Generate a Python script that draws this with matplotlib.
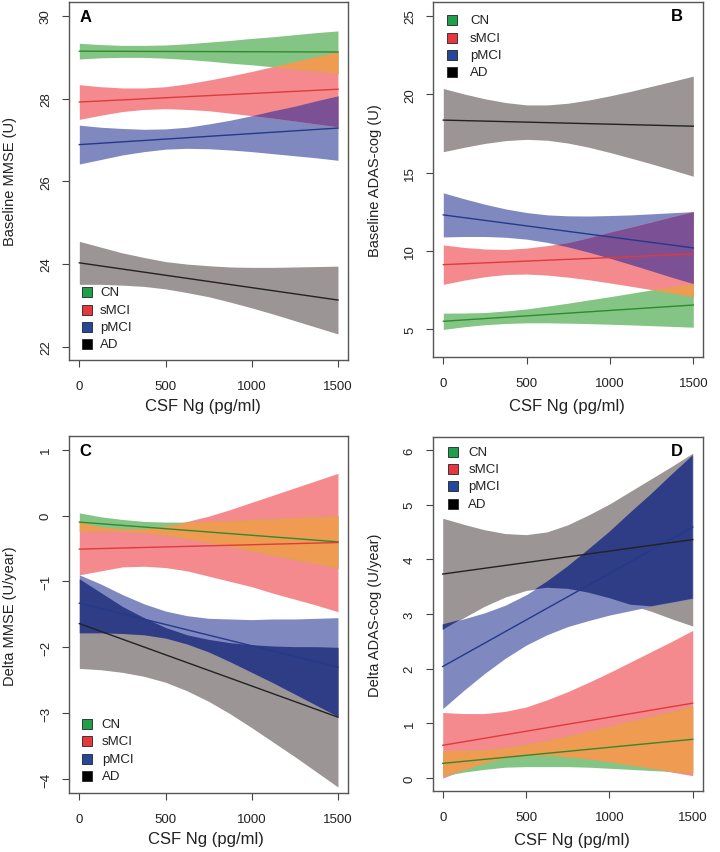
import numpy as np
import matplotlib.pyplot as plt

plt.rcParams['font.family'] = ['Liberation Sans', 'DejaVu Sans']

GROUPS = ["CN", "sMCI", "pMCI", "AD"]
NG = [0, 125, 250, 375, 500, 625, 750, 875, 1000, 1125, 1250, 1375, 1500]   # CSF Ng points where bands were read
NG_ENDS = [0, 1500]

# A: baseline MMSE
A_LINE = {"CN": [29.15, 29.13], "sMCI": [27.92, 28.23], "pMCI": [26.89, 27.29], "AD": [24.03, 23.13]}
A_UPPER = {"CN": [29.34, 29.31, 29.29, 29.29, 29.30, 29.33, 29.37, 29.41, 29.46, 29.50, 29.55, 29.60, 29.64],
           "sMCI": [28.34, 28.29, 28.26, 28.26, 28.29, 28.36, 28.45, 28.55, 28.66, 28.78, 28.90, 29.02, 29.14],
           "pMCI": [27.36, 27.31, 27.28, 27.26, 27.27, 27.31, 27.39, 27.48, 27.59, 27.71, 27.82, 27.95, 28.07],
           "AD": [24.55, 24.41, 24.27, 24.16, 24.06, 24.00, 23.96, 23.93, 23.92, 23.92, 23.93, 23.94, 23.95]}
A_LOWER = {"CN": [28.96, 28.99, 29.00, 29.00, 28.98, 28.95, 28.91, 28.86, 28.82, 28.77, 28.72, 28.67, 28.61],
           "sMCI": [27.50, 27.60, 27.69, 27.74, 27.76, 27.74, 27.71, 27.65, 27.59, 27.53, 27.46, 27.39, 27.32],
           "pMCI": [26.42, 26.53, 26.64, 26.72, 26.78, 26.80, 26.79, 26.76, 26.72, 26.67, 26.62, 26.57, 26.51],
           "AD": [23.51, 23.51, 23.49, 23.46, 23.40, 23.31, 23.21, 23.08, 22.94, 22.79, 22.63, 22.47, 22.31]}

# B: baseline ADAS-cog
B_LINE = {"CN": [5.49, 6.53], "sMCI": [9.11, 9.79], "pMCI": [12.29, 10.18], "AD": [18.35, 17.96]}
B_UPPER = {"CN": [6.01, 6.02, 6.05, 6.15, 6.28, 6.46, 6.65, 6.86, 7.06, 7.28, 7.50, 7.70, 7.90],
           "sMCI": [10.37, 10.21, 10.11, 10.08, 10.17, 10.33, 10.52, 10.84, 11.19, 11.51, 11.84, 12.18, 12.52],
           "pMCI": [13.70, 13.32, 12.97, 12.67, 12.44, 12.29, 12.23, 12.22, 12.25, 12.29, 12.36, 12.43, 12.50],
           "AD": [20.37, 20.02, 19.71, 19.47, 19.32, 19.32, 19.43, 19.64, 19.90, 20.19, 20.51, 20.83, 21.16]}
B_LOWER = {"CN": [4.97, 5.14, 5.27, 5.35, 5.39, 5.39, 5.37, 5.34, 5.30, 5.26, 5.21, 5.16, 5.11],
           "sMCI": [7.85, 8.12, 8.34, 8.48, 8.51, 8.44, 8.31, 8.14, 7.94, 7.73, 7.51, 7.29, 7.06],
           "pMCI": [10.88, 10.91, 10.91, 10.86, 10.74, 10.53, 10.24, 9.90, 9.52, 9.12, 8.71, 8.29, 7.90],
           "AD": [16.33, 16.61, 16.86, 17.04, 17.12, 17.06, 16.88, 16.61, 16.28, 15.92, 15.55, 15.16, 14.76]}

# C: delta MMSE
C_LINE = {"CN": [-0.10, -0.40], "sMCI": [-0.51, -0.41], "pMCI": [-1.33, -2.30], "AD": [-1.64, -3.06]}
C_UPPER = {"CN": [0.04, -0.02, -0.06, -0.09, -0.10, -0.10, -0.09, -0.08, -0.06, -0.05, -0.03, -0.02, 0.00],
           "sMCI": [-0.10, -0.17, -0.20, -0.20, -0.16, -0.09, -0.01, 0.09, 0.20, 0.31, 0.42, 0.53, 0.64],
           "pMCI": [-0.90, -1.04, -1.20, -1.34, -1.45, -1.52, -1.56, -1.57, -1.58, -1.57, -1.57, -1.56, -1.55],
           "AD": [-0.96, -1.17, -1.38, -1.55, -1.70, -1.81, -1.88, -1.93, -1.96, -1.98, -1.99, -1.99, -2.00]}
C_LOWER = {"CN": [-0.24, -0.23, -0.24, -0.26, -0.30, -0.35, -0.41, -0.47, -0.54, -0.60, -0.67, -0.73, -0.80],
           "sMCI": [-0.90, -0.84, -0.78, -0.77, -0.79, -0.84, -0.92, -1.00, -1.08, -1.18, -1.27, -1.36, -1.46],
           "pMCI": [-1.78, -1.78, -1.79, -1.81, -1.86, -1.95, -2.07, -2.22, -2.38, -2.54, -2.71, -2.88, -3.05],
           "AD": [-2.32, -2.34, -2.38, -2.44, -2.53, -2.66, -2.82, -3.01, -3.22, -3.44, -3.66, -3.89, -4.12]}

# D: delta ADAS-cog
D_LINE = {"CN": [0.27, 0.71], "sMCI": [0.60, 1.37], "pMCI": [2.04, 4.59], "AD": [3.73, 4.36]}
D_UPPER = {"CN": [0.50, 0.51, 0.52, 0.56, 0.62, 0.69, 0.77, 0.86, 0.95, 1.04, 1.13, 1.22, 1.32],
           "sMCI": [1.20, 1.18, 1.18, 1.22, 1.30, 1.43, 1.58, 1.75, 1.93, 2.12, 2.31, 2.50, 2.70],
           "pMCI": [2.81, 2.91, 3.02, 3.16, 3.35, 3.59, 3.87, 4.18, 4.50, 4.85, 5.19, 5.55, 5.90],
           "AD": [4.75, 4.64, 4.54, 4.47, 4.45, 4.50, 4.63, 4.81, 5.01, 5.24, 5.47, 5.70, 5.94]}
D_LOWER = {"CN": [0.04, 0.11, 0.16, 0.20, 0.21, 0.21, 0.21, 0.20, 0.18, 0.16, 0.14, 0.12, 0.10],
           "sMCI": [0.00, 0.15, 0.28, 0.37, 0.41, 0.42, 0.39, 0.35, 0.30, 0.24, 0.18, 0.11, 0.045],
           "pMCI": [1.27, 1.60, 1.91, 2.19, 2.43, 2.62, 2.77, 2.88, 2.98, 3.06, 3.14, 3.21, 3.28],
           "AD": [2.71, 2.93, 3.14, 3.31, 3.43, 3.48, 3.46, 3.39, 3.29, 3.17, 3.05, 2.91, 2.78]}

BAND = {"CN": "#84c585", "sMCI": "#f58a8e", "pMCI": "#8089bf", "AD": "#9b9595"}
LINE = {"CN": "#2e8b2e", "sMCI": "#e03a3a", "pMCI": "#23398a", "AD": "#222222"}
KEY = {"CN": "#1f9e4b", "sMCI": "#e8373c", "pMCI": "#24479a", "AD": "#000000"}
OVERLAP = [("CN", "sMCI", "#ef9b52"), ("sMCI", "pMCI", "#7c5094"), ("pMCI", "AD", "#2f3d86")]

panels = [
    # letter, line, upper, lower, ylabel, ylim, yticks, axes rect, letter xy, legend xy, xlabel xy, ylabel x
    ("A", A_LINE, A_UPPER, A_LOWER, "Baseline MMSE (U)", (21.68, 30.34), [22, 24, 26, 28, 30],
     [0.0958, 0.5768, 0.388, 0.4197], (0.06, 0.96), (0.063, 0.111, 0.189), (0.48, -0.126), -0.211),
    ("B", B_LINE, B_UPPER, B_LOWER, "Baseline ADAS-cog (U)", (3.19, 25.9), [5, 10, 15, 20, 25],
     [0.6018, 0.58, 0.375, 0.4165], (0.902, 0.961), (0.068, 0.136, 0.948), (0.494, -0.137), -0.216),
    ("C", C_LINE, C_UPPER, C_LOWER, "Delta MMSE (U/year)", (-4.21, 1.20), [-4, -3, -2, -1, 0, 1],
     [0.0958, 0.0692, 0.388, 0.418], (0.06, 0.96), (0.065, 0.117, 0.193), (0.49, -0.129), -0.211),
    ("D", D_LINE, D_UPPER, D_LOWER, "Delta ADAS-cog (U/year)", (-0.24, 6.23), [0, 1, 2, 3, 4, 5, 6],
     [0.601, 0.0712, 0.375, 0.415], (0.904, 0.962), (0.074, 0.132, 0.958), (0.517, -0.135), -0.213),
]

fig = plt.figure(figsize=(7.2, 8.53), dpi=100)

for letter, line, upper, lower, ylabel, ylim, yticks, rect, lxy, leg, xlab, ylab_x in panels:
    ax = fig.add_axes(rect)
    x = np.array(NG)
    for g in ["AD", "pMCI", "sMCI", "CN"]:
        ax.fill_between(x, lower[g], upper[g], color=BAND[g], lw=0)
    for g1, g2, col in OVERLAP:
        lo = np.maximum(lower[g1], lower[g2])
        hi = np.minimum(upper[g1], upper[g2])
        ax.fill_between(x, lo, hi, where=hi > lo, interpolate=True, color=col, lw=0)
    for g in GROUPS:
        ax.plot(NG_ENDS, line[g], color=LINE[g], lw=1.0)

    ax.set_xlim(-60, 1560)
    ax.set_ylim(*ylim)
    ax.set_xticks([0, 500, 1000, 1500])
    ax.set_yticks(yticks)
    ax.tick_params(direction='out', length=5.3, width=0.8, color='#444444',
                   labelsize=9.5, labelcolor='#222222')
    ax.tick_params(axis='x', pad=9)
    ax.tick_params(axis='y', pad=7, labelrotation=90)
    for lab in ax.get_yticklabels():
        lab.set_va('center')
    for sp in ax.spines.values():
        sp.set_color('#555555')
        sp.set_linewidth(1.0)

    ax.set_xlabel("CSF Ng (pg/ml)", fontsize=12, color='#222222', va='center')
    ax.xaxis.set_label_coords(*xlab)
    ax.set_ylabel(ylabel, fontsize=10.5, color='#222222', va='center')
    ax.yaxis.set_label_coords(ylab_x, 0.5)

    ax.text(lxy[0], lxy[1], letter, transform=ax.transAxes, fontsize=12,
            fontweight='bold', ha='center', va='center')

    sq_x, txt_x, top_y = leg
    for i, g in enumerate(GROUPS):
        yy = top_y - i * 0.0485
        ax.plot([sq_x], [yy], marker='s', markersize=7.5, color=KEY[g],
                markeredgecolor='#222222', markeredgewidth=0.6,
                transform=ax.transAxes, clip_on=False)
        ax.text(txt_x, yy, g, transform=ax.transAxes, fontsize=9.5,
                ha='left', va='center', color='#222222')

fig.savefig("out.png", dpi=100)
